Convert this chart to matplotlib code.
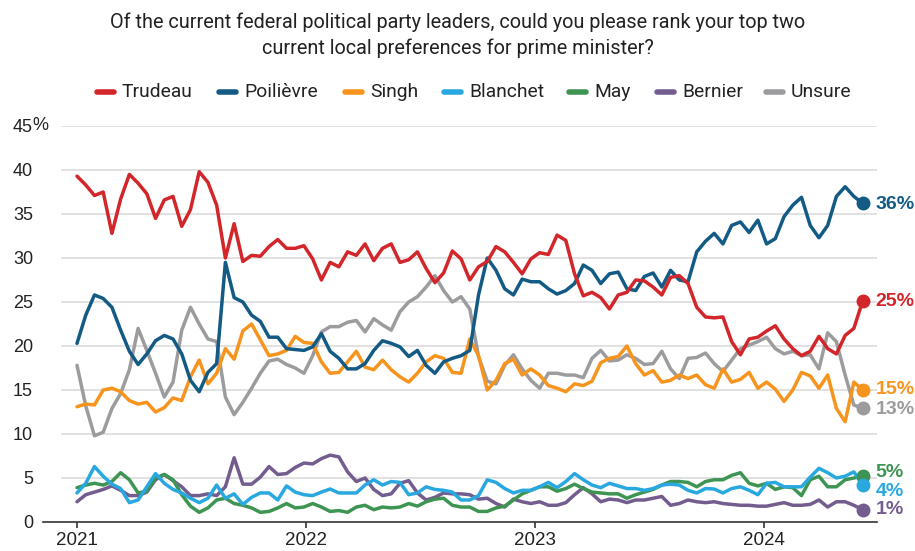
import numpy as np
import pandas as pd
import matplotlib
matplotlib.use("Agg")
import matplotlib.pyplot as plt
import matplotlib.dates as mdates
from matplotlib import font_manager as fm
from matplotlib.lines import Line2D

# ---------------- data ----------------
dates = pd.date_range("2021-01-01", "2024-06-07", periods=91)

trudeau = [39.3, 38.3, 37.1, 37.5, 32.8, 36.7, 39.5, 38.5, 37.3, 34.5,
           36.6, 37.0, 33.6, 35.5, 39.8, 38.6, 36.0, 30.0, 33.9, 29.6,
           30.3, 30.2, 31.3, 32.1, 31.1, 31.1, 31.4, 29.9, 27.5, 29.5,
           29.0, 30.7, 30.3, 31.6, 29.7, 31.1, 31.6, 29.5, 29.8, 30.7,
           28.8, 27.2, 28.3, 30.8, 29.9, 27.5, 29.0, 29.6, 31.3, 30.7,
           29.5, 28.2, 29.9, 30.6, 30.4, 32.6, 32.0, 28.2, 25.7, 26.1,
           25.5, 24.2, 25.8, 26.1, 27.5, 27.4, 26.7, 25.8, 27.8, 28.0,
           27.1, 24.4, 23.3, 23.2, 23.3, 20.5, 19.0, 20.8, 21.0, 21.7,
           22.3, 20.8, 19.7, 18.9, 19.4, 21.1, 19.7, 19.1, 21.2, 22.0,
           25.1]
poilievre = [20.3, 23.5, 25.8, 25.4, 24.4, 21.8, 19.4, 17.9, 19.1, 20.6,
             21.2, 20.8, 19.1, 16.1, 14.8, 17.0, 18.0, 29.5, 25.5, 25.0,
             23.5, 22.8, 21.0, 21.0, 19.7, 19.6, 19.5, 19.9, 21.4, 19.4,
             18.6, 17.4, 17.4, 18.0, 19.5, 20.6, 20.3, 19.9, 18.8, 19.5,
             17.8, 16.9, 18.2, 18.6, 18.9, 19.5, 25.8, 30.0, 28.6, 26.5,
             25.8, 27.6, 27.3, 27.3, 26.5, 25.9, 26.3, 27.1, 29.2, 28.6,
             27.1, 28.2, 28.4, 26.5, 26.3, 27.9, 28.3, 26.7, 28.6, 27.5,
             27.3, 30.7, 31.9, 32.8, 31.6, 33.7, 34.1, 32.9, 34.3, 31.6,
             32.2, 34.7, 36.0, 36.9, 33.7, 32.3, 33.7, 37.0, 38.1, 37.0,
             36.2]
singh = [13.1, 13.4, 13.3, 15.0, 15.2, 14.8, 13.8, 13.4, 13.6, 12.5,
         13.0, 14.1, 13.8, 16.5, 18.4, 15.7, 16.9, 19.7, 18.5, 21.7,
         22.5, 20.7, 18.9, 19.1, 19.5, 21.1, 20.4, 20.3, 18.2, 16.9,
         17.0, 18.2, 19.4, 17.6, 17.3, 18.4, 17.3, 16.5, 15.9, 16.9,
         18.2, 18.9, 18.6, 17.0, 16.9, 20.8, 18.9, 15.0, 16.1, 18.0,
         18.5, 16.7, 17.4, 16.7, 15.5, 15.2, 14.8, 15.7, 15.5, 16.0,
         18.1, 18.6, 18.8, 20.0, 18.0, 16.7, 17.2, 15.9, 16.1, 16.7,
         16.3, 16.7, 15.6, 15.2, 17.4, 15.9, 16.2, 17.0, 15.2, 15.9,
         15.1, 13.7, 15.0, 17.0, 16.6, 15.2, 16.7, 12.9, 11.4, 15.9,
         15.0]
blanchet = [3.3, 4.4, 6.3, 5.2, 4.3, 3.8, 2.2, 2.5, 4.0, 5.5,
            4.4, 3.7, 3.3, 2.7, 2.2, 2.7, 4.2, 2.7, 3.2, 2.0,
            2.8, 3.3, 3.3, 2.5, 4.1, 3.4, 3.1, 3.0, 3.4, 3.75,
            3.3, 3.3, 3.3, 4.2, 4.8, 4.2, 4.6, 4.5, 3.1, 3.3,
            4.0, 3.7, 3.6, 3.4, 2.5, 2.5, 3.0, 4.8, 4.5, 3.8,
            3.3, 3.6, 3.6, 4.0, 4.5, 3.9, 4.6, 5.5, 4.8, 4.2,
            3.9, 4.4, 4.1, 3.8, 3.8, 3.6, 3.8, 4.2, 4.3, 4.2,
            3.6, 3.3, 3.8, 3.75, 3.3, 3.8, 4.0, 3.6, 3.1, 4.4,
            4.5, 4.0, 4.0, 4.0, 5.1, 6.1, 5.6, 5.0, 5.2, 5.7,
            4.2]
may_ = [3.9, 4.2, 4.4, 4.2, 4.6, 5.6, 4.8, 3.3, 3.5, 5.0,
        5.4, 4.8, 3.1, 1.8, 1.1, 1.6, 2.5, 2.7, 2.1, 1.9,
        1.6, 1.1, 1.2, 1.6, 2.1, 1.6, 1.7, 2.1, 1.7, 1.2,
        1.3, 1.1, 1.7, 1.9, 1.4, 1.7, 1.6, 1.7, 2.1, 1.8,
        2.3, 2.6, 2.7, 1.9, 1.7, 1.7, 1.2, 1.2, 1.6, 1.8,
        2.5, 3.2, 3.6, 4.0, 4.0, 3.5, 3.8, 4.3, 3.8, 3.4,
        3.3, 3.2, 3.2, 2.7, 3.1, 3.4, 3.7, 4.2, 4.6, 4.6,
        4.5, 4.0, 4.6, 4.8, 4.8, 5.3, 5.6, 4.4, 4.1, 4.4,
        3.7, 4.0, 3.9, 3.0, 4.8, 5.2, 4.0, 4.0, 4.8, 5.0,
        5.2]
bernier = [2.3, 3.1, 3.4, 3.7, 4.1, 3.6, 3.0, 3.0, 3.4, 4.8,
           5.4, 4.7, 4.0, 3.0, 3.0, 3.2, 3.0, 4.0, 7.3, 4.3,
           4.3, 5.1, 6.3, 5.4, 5.5, 6.2, 6.7, 6.6, 7.2, 7.6,
           7.4, 5.7, 4.6, 5.0, 3.7, 3.0, 3.2, 4.4, 4.7, 3.3,
           2.5, 2.8, 3.3, 3.2, 3.2, 3.1, 2.6, 2.7, 2.1, 1.7,
           2.6, 2.3, 2.1, 2.3, 1.9, 1.9, 2.2, 3.1, 3.9, 3.2,
           2.3, 2.6, 2.5, 2.2, 2.5, 2.5, 2.7, 2.9, 1.9, 2.1,
           2.5, 2.3, 2.2, 2.3, 2.1, 2.0, 1.9, 1.9, 1.8, 1.8,
           2.0, 2.2, 1.9, 1.9, 2.0, 2.5, 1.7, 2.3, 2.3, 1.9,
           1.4]
unsure = [17.8, 13.2, 9.8, 10.2, 12.9, 14.6, 17.3, 22.0, 19.5, 16.9,
          14.2, 15.9, 21.8, 24.4, 22.5, 20.8, 20.5, 14.2, 12.2, 13.6,
          15.2, 16.9, 18.3, 18.5, 17.9, 17.5, 16.9, 18.9, 21.6, 22.2,
          22.2, 22.7, 22.9, 21.6, 23.1, 22.4, 21.8, 23.9, 25.0, 25.6,
          26.7, 28.0, 26.3, 25.0, 25.6, 24.2, 18.8, 16.0, 15.7, 17.8,
          19.0, 17.4, 16.1, 15.2, 16.9, 16.9, 16.7, 16.7, 16.4, 18.6,
          19.5, 18.3, 18.4, 19.0, 18.6, 17.9, 18.0, 19.4, 17.4, 16.3,
          18.6, 18.7, 19.2, 18.0, 17.1, 18.4, 19.7, 20.1, 20.5, 21.0,
          19.7, 19.1, 19.4, 18.9, 19.0, 17.4, 21.5, 20.5, 16.7, 13.3,
          12.9]

names = ["Trudeau", "Poilièvre", "Singh", "Blanchet", "May", "Bernier", "Unsure"]
series = [trudeau, poilievre, singh, blanchet, may_, bernier, unsure]
colors = ["#D2262B", "#135B84", "#F7941D", "#29A8E0", "#3E9452", "#735C8E", "#9C9C9E"]
ytick_vals = list(range(0, 50, 5))
title_lines = ["Of the current federal political party leaders, could you please rank your top two",
               "current local preferences for prime minister?"]

# ---------------- fonts ----------------
avail = {f.name for f in fm.fontManager.ttflist}
NARROW = "Liberation Sans Narrow" if "Liberation Sans Narrow" in avail else (
    "Roboto" if "Roboto" in avail else "DejaVu Sans")
REG = "Liberation Sans" if "Liberation Sans" in avail else "DejaVu Sans"
TXT = "#222222"

W, H = 915, 551
fig = plt.figure(figsize=(W / 100, H / 100), dpi=100)
fig.patch.set_facecolor("white")
ax = fig.add_axes([43 / W, 1 - 522 / H, (877 - 43) / W, (522 - 126) / H])

ppd = 229.0 / 365.25
x0 = mdates.date2num(pd.Timestamp("2021-01-01"))
ax.set_xlim(x0 - (77 - 43) / ppd, x0 + (877 - 77) / ppd)
ax.set_ylim(0, 45)

for y in ytick_vals[1:]:
    ax.axhline(y, xmin=19 / 834, xmax=1, color="#DCDCDC", lw=1.2, zorder=0)

for s in ["top", "right", "left"]:
    ax.spines[s].set_visible(False)
ax.spines["bottom"].set_color("#333333")
ax.spines["bottom"].set_linewidth(1.2)

order = [6, 5, 4, 3, 2, 1, 0]
for k in order:
    ax.plot(dates, series[k], color=colors[k], lw=2.5, solid_joinstyle="round",
            solid_capstyle="round", zorder=3 + (6 - k) * 0.1)
    ax.plot(dates[-1:], series[k][-1:], "o", ms=9, color=colors[k],
            clip_on=False, zorder=5)

# end labels
offsets = {0: 0, 1: -1, 2: 0, 3: -5, 4: 3, 5: 0, 6: -1}
for k in range(7):
    v = series[k][-1]
    ax.annotate(f"{int(round(v))}%", xy=(dates[-1], v), xytext=(9.5, offsets[k]),
                textcoords="offset points", va="center", ha="left",
                color=colors[k], fontsize=14, fontweight="bold",
                family=REG, annotation_clip=False)

# ticks
ax.set_yticks(ytick_vals)
ax.set_yticklabels([str(v) for v in ytick_vals])
ax.tick_params(axis="y", length=0, pad=7.2, labelsize=13, labelcolor=TXT)
for lab in ax.get_yticklabels():
    lab.set_family(REG)
ax.text((32.5 - 43) / 834, 45, "%", transform=ax.get_yaxis_transform(),
        ha="left", va="center", fontsize=13, color=TXT, family=REG)

ax.xaxis.set_major_locator(mdates.YearLocator())
ax.xaxis.set_major_formatter(mdates.DateFormatter("%Y"))
ax.tick_params(axis="x", length=4, width=1.2, color="#333333", pad=3,
               labelsize=13.5, labelcolor=TXT)
for lab in ax.get_xticklabels():
    lab.set_family(REG)

# title
t1 = fig.text(0.5, 1 - 22 / H, title_lines[0], ha="center", va="center",
              fontsize=15, color=TXT, family=NARROW)
t2 = fig.text(0.5, 1 - 48 / H, title_lines[1], ha="center", va="center",
              fontsize=15, color=TXT, family=NARROW)

# legend
leg_text_x = [122, 244, 370, 469, 594, 682, 791]
leg_y = 1 - 92 / H
leg_texts = []
for k in range(7):
    xt = leg_text_x[k]
    fig.add_artist(Line2D([(xt - 25) / W, (xt - 8) / W], [leg_y, leg_y],
                          transform=fig.transFigure, lw=4, color=colors[k],
                          solid_capstyle="round"))
    leg_texts.append(fig.text(xt / W, leg_y, names[k], ha="left", va="center",
                              fontsize=15, color=TXT, family=NARROW))

fig.canvas.draw()
r = fig.canvas.get_renderer()
def fit(t, target):
    w = t.get_window_extent(r).width
    t.set_fontsize(t.get_fontsize() * target / w)
fit(t1, 699)
t2.set_fontsize(t1.get_fontsize())
fit(leg_texts[0], 71)
for t in leg_texts[1:]:
    t.set_fontsize(leg_texts[0].get_fontsize())

fig.savefig("out.png", dpi=100, facecolor="white")
